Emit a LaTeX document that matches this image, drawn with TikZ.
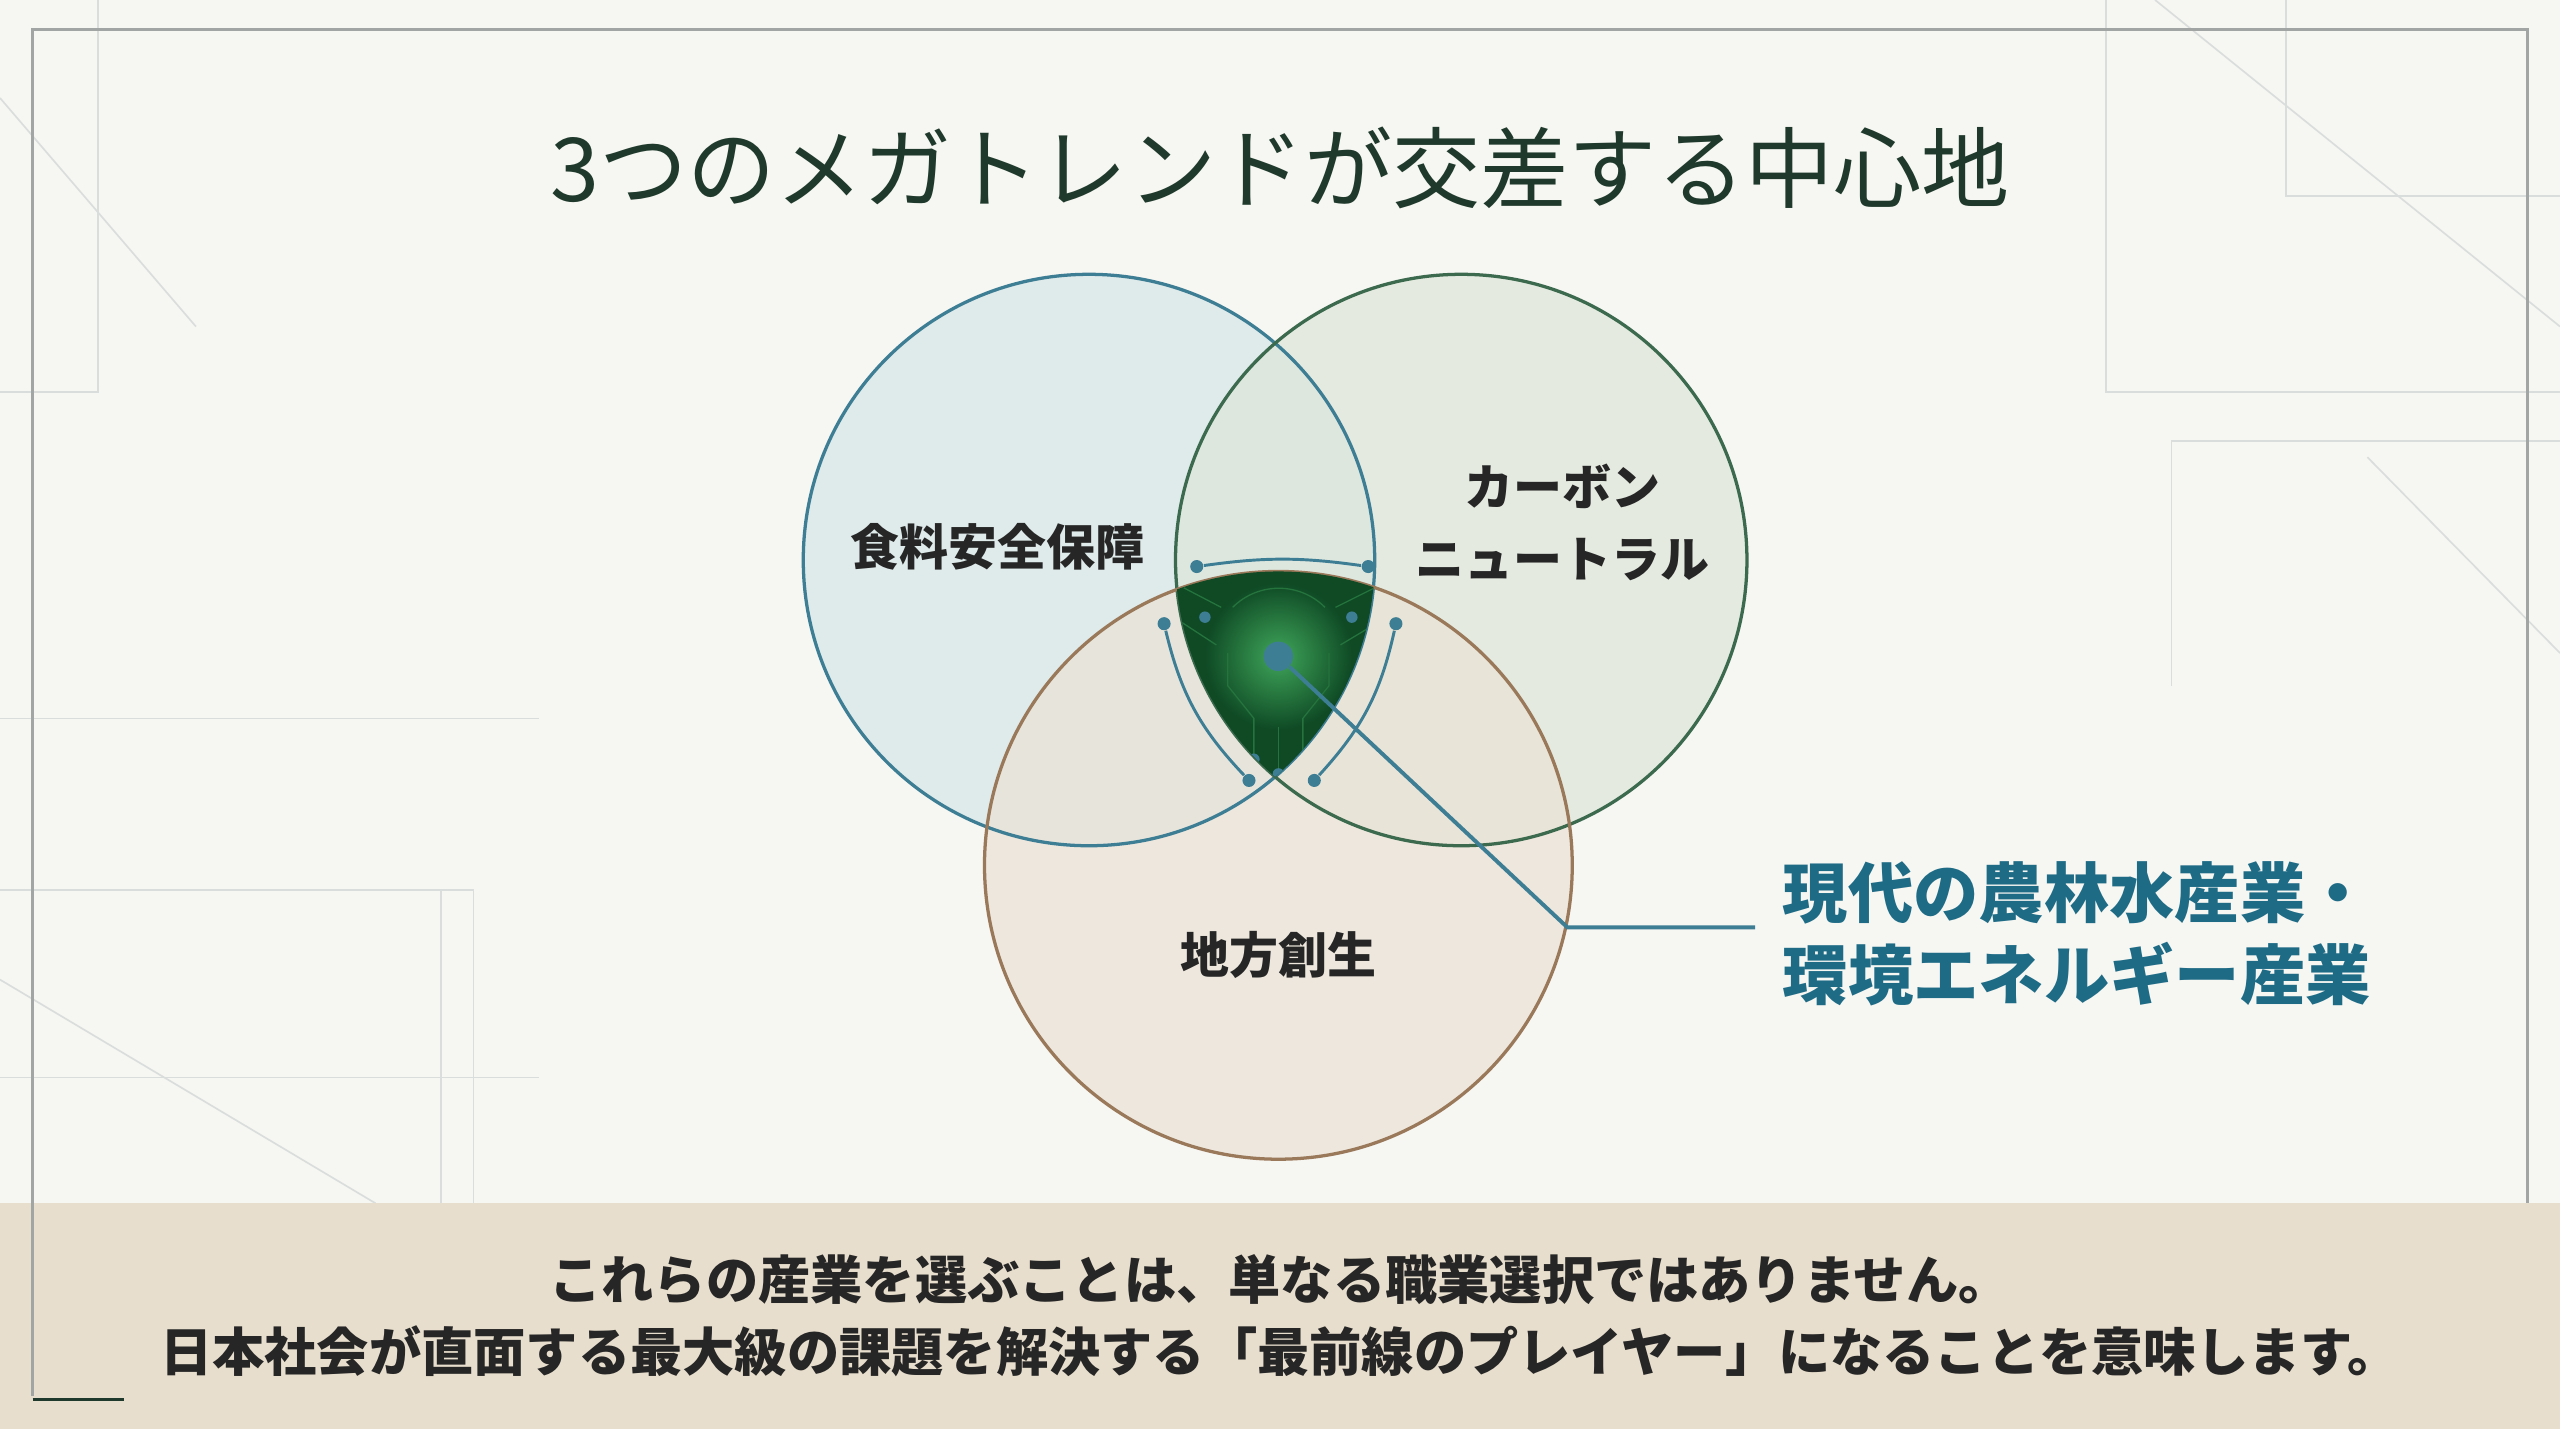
\documentclass[tikz,border=0pt]{standalone}
\usepackage{fontspec}
\setmainfont{Noto Sans CJK JP}
\newfontfamily\jpfont{Noto Sans CJK JP}
\usetikzlibrary{positioning}
\definecolor{bgpaper}{HTML}{F6F6F2}
\definecolor{framegray}{HTML}{C9CFCC}
\definecolor{titlegreen}{HTML}{1F3A2C}
\definecolor{foodblue}{HTML}{DCE8E9}
\definecolor{carbongreen}{HTML}{DEE6DA}
\definecolor{localbeige}{HTML}{EAE2D6}
\definecolor{bluestroke}{HTML}{3E7E95}
\definecolor{greenstroke}{HTML}{3C6A4E}
\definecolor{brownstroke}{HTML}{9A785A}
\definecolor{coregreen}{HTML}{0F4A25}
\definecolor{glowgreen}{HTML}{3FA65A}
\definecolor{accentblue}{HTML}{1E6B86}
\definecolor{bandbeige}{HTML}{E8DECD}
\tikzset{
  deco/.style={draw=framegray!70, line width=0.5pt},
  trend/.style={font=\jpfont\bfseries\fontsize{15}{18}\selectfont, text=black!85, align=center, inner sep=0.75pt},
  dotarc/.style={draw=bluestroke, line width=0.9pt},
  tip/.style={circle, fill=bluestroke, inner sep=0pt, minimum size=4pt},
  circuit/.style={draw=glowgreen!45!coregreen, line width=0.4pt}
}
\begin{document}
\begin{tikzpicture}[x=0.5pt,y=0.5pt,yscale=-1]
        % background
        \fill[bgpaper] (0,0) rectangle (1568,875);
        \useasboundingbox (0,0) rectangle (1568,875);
        % decorative lines
        \draw[deco] (1290,0) -- (1290,240) -- (1568,240);
        \draw[deco] (1320,0) -- (1568,200);
        \draw[deco] (1400,0) -- (1400,120) -- (1568,120);
        \draw[deco] (1330,270) -- (1568,270);
        \draw[deco] (1330,270) -- (1330,420);
        \draw[deco] (1450,280) -- (1568,400);
        \draw[deco] (0,440) -- (330,440);
        \draw[deco] (0,545) -- (290,545) -- (290,737);
        \draw[deco] (0,600) -- (230,737);
        \draw[deco] (270,545) -- (270,737);
        \draw[deco] (0,660) -- (330,660);
        \draw[deco] (0,60) -- (120,200);
        \draw[deco] (60,0) -- (60,240) -- (0,240);
        % frame
        \draw[framegray!80!black, line width=0.8pt] (20,855) -- (20,18) -- (1548,18) -- (1548,737);

        % Title
        \node[font=\jpfont\fontsize{27}{32}\selectfont, text=titlegreen] (title) at (784,103) {3つのメガトレンドが交差する中心地};

        % circle centres
        \coordinate (cfood) at (667,343);
        \coordinate (ccarbon) at (895,343);
        \coordinate (clocal) at (783,530);
        % circles
        \fill[foodblue, opacity=0.85] (cfood) circle (175);
        \fill[carbongreen, opacity=0.75] (ccarbon) circle (175);
        \fill[localbeige, opacity=0.75] (clocal) circle (180);
        \draw[bluestroke, line width=1pt] (cfood) circle (175);
        \draw[greenstroke, line width=1pt] (ccarbon) circle (175);
        \draw[brownstroke, line width=1pt] (clocal) circle (180);

        % core region
        \begin{scope}
          \clip (cfood) circle (175);
          \clip (ccarbon) circle (175);
          \clip (clocal) circle (180);
          \fill[coregreen] (700,340) rectangle (870,490);
          \shade[inner color=glowgreen, outer color=coregreen] (783,402) circle (45);
          \draw[circuit] (755,372) arc (225:315:40);
          \draw[circuit] (748,372) -- (725,360);
          \draw[circuit] (818,372) -- (842,360);
          \draw[circuit] (745,395) -- (722,380);
          \draw[circuit] (821,395) -- (846,380);
          \draw[circuit] (752,400) -- (752,420) -- (768,440) -- (768,465);
          \draw[circuit] (814,400) -- (814,420) -- (798,440) -- (798,465);
          \draw[circuit] (783,445) -- (783,472);
          \fill[bluestroke] (768,465) circle (3.5);
          \fill[bluestroke] (798,465) circle (3.5);
          \fill[bluestroke] (783,474) circle (3.5);
          \fill[bluestroke] (738,378) circle (3.5);
          \fill[bluestroke] (828,378) circle (3.5);
        \end{scope}

        % arcs with tips
        \node[tip] (ta) at (733,347) {};
        \node[tip] (tb) at (838,347) {};
        \node[tip] (la) at (713,382) {};
        \node[tip] (lb) at (765,478) {};
        \node[tip] (ra) at (855,382) {};
        \node[tip] (rb) at (805,478) {};
        \draw[dotarc] (ta) to[bend right=8] (tb);
        \draw[dotarc] (la) to[bend left=15] (lb);
        \draw[dotarc] (ra) to[bend right=15] (rb);

        % centre and leader
        \node[circle, fill=bluestroke, inner sep=0pt, minimum size=9pt] (hub) at (783,402) {};
        \coordinate (bend) at (960,568);
        \coordinate (leadend) at (1075,568);
        \draw[bluestroke, line width=1.2pt] (hub) -- (bend) -- (leadend);

        % Text Node
        \node[trend] (food) at (611,335) {食料安全保障};
        % Text Node
        \node[trend] (carbon) at (957,320) {カーボン\\[4pt]ニュートラル};
        % Text Node
        \node[trend] (local) at (783,585) {地方創生};
        % Text Node
        \node[font=\jpfont\bfseries\fontsize{20}{25}\selectfont, text=accentblue, align=left, anchor=west] (core) at (1085,572) {現代の農林水産業・\\環境エネルギー産業};

        % bottom band
        \fill[bandbeige] (0,737) rectangle (1568,875);
        \draw[titlegreen, line width=0.8pt] (20,857) -- (76,857);
        \draw[framegray!80!black, line width=0.8pt] (20,737) -- (20,855);
        \node[font=\jpfont\bfseries\fontsize{16}{22}\selectfont, text=black!85, align=center] (msg) at (784,806) {これらの産業を選ぶことは、単なる職業選択ではありません。\\日本社会が直面する最大級の課題を解決する「最前線のプレイヤー」になることを意味します。};
\end{tikzpicture}
\end{document}
